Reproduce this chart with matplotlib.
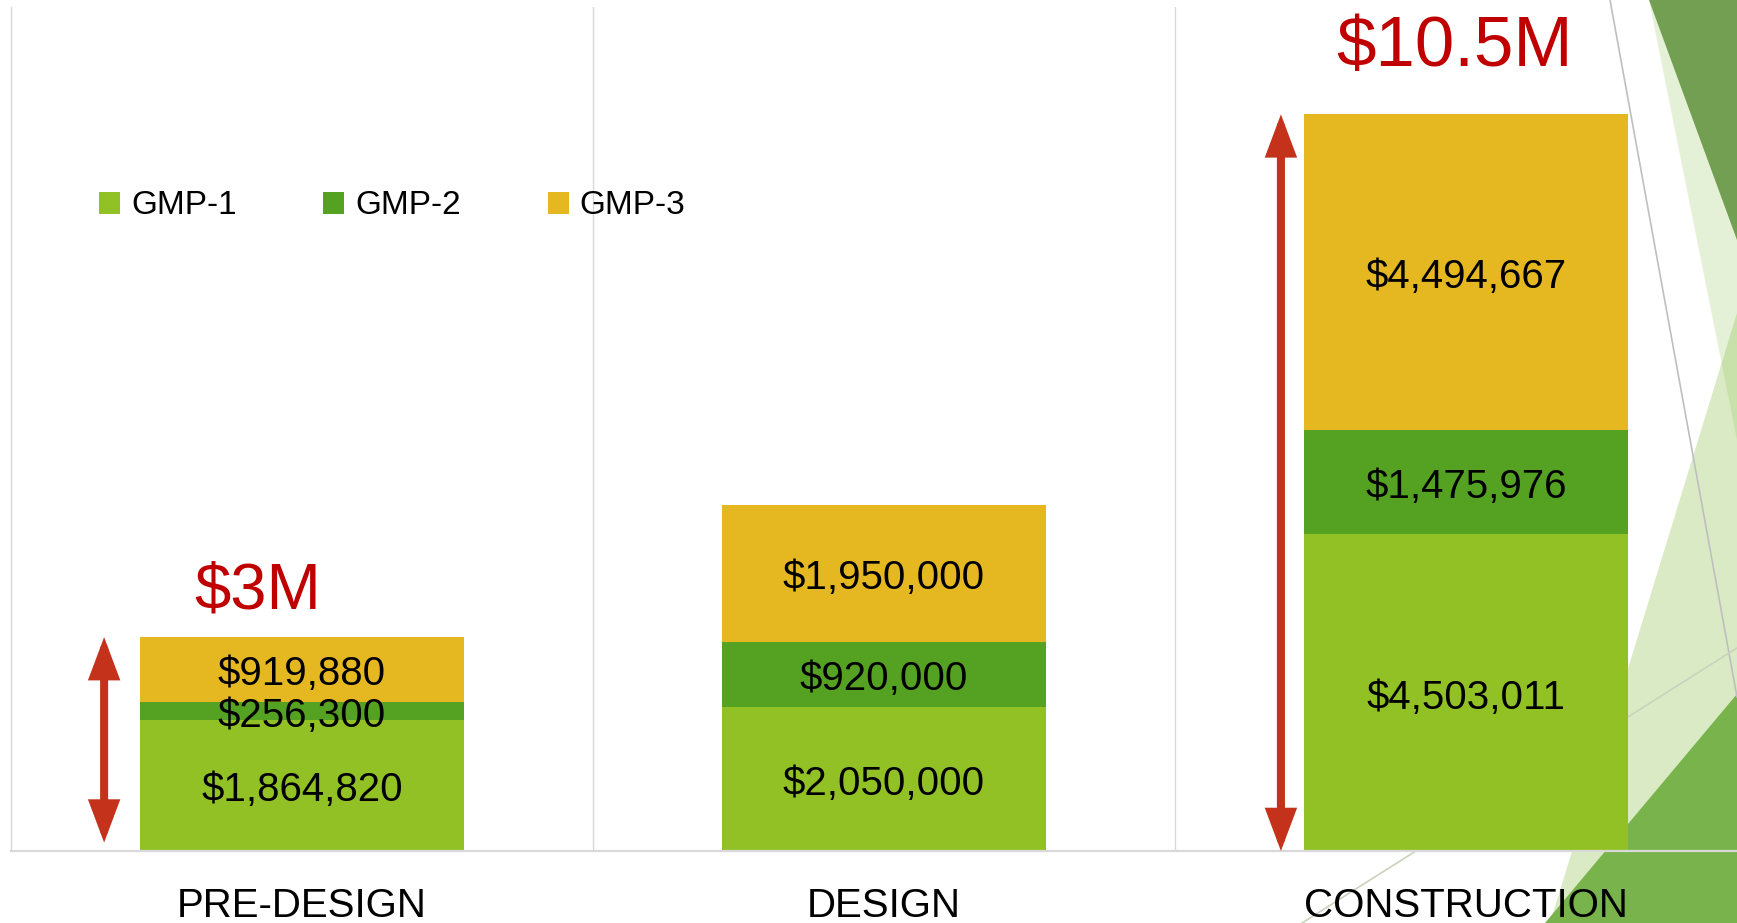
import matplotlib.pyplot as plt
from matplotlib.patches import Patch, Polygon
from matplotlib.lines import Line2D

plt.rcParams['font.family'] = ['Liberation Sans', 'DejaVu Sans']

# data
phases = ['PRE-DESIGN', 'DESIGN', 'CONSTRUCTION']
series = ['GMP-1', 'GMP-2', 'GMP-3']
gmp1 = [1864820, 2050000, 4503011]
gmp2 = [256300, 920000, 1475976]
gmp3 = [919880, 1950000, 4494667]
callouts = {0: '$3M', 2: '$10.5M'}

colors = ['#92C126', '#55A122', '#E5B821']
red_text = '#C00000'
red_arrow = '#C5321C'
grid_col = '#D9D9D9'

W, H = 1737, 923


def fig_xy(pts):
    # pixel coords (y from top) -> figure fraction
    return [(x / W, 1 - y / H) for x, y in pts]


def draw_background(fig):
    # facet-style green shapes at the right edge of the slide
    shapes = [
        ([(1649, 0), (1737, 0), (1737, 440)], '#8CC04B', 0.22),
        ([(1737, 313), (1550, 923), (1737, 923)], '#8CC04B', 0.32),
        ([(1649, 0), (1737, 0), (1737, 240)], '#739F53', 1.0),
        ([(1737, 694), (1545, 923), (1737, 923)], '#79B34C', 1.0),
    ]
    for pts, c, a in shapes:
        fig.add_artist(Polygon(fig_xy(pts), closed=True, facecolor=c, alpha=a,
                               edgecolor='none', transform=fig.transFigure, zorder=-2))
    for (p0, p1), c in [(((1610, 0), (1737, 697)), '#BFBFBF'),
                        (((1737, 648), (1302, 923)), '#C9D3BE')]:
        (x0, y0), (x1, y1) = fig_xy([p0, p1])
        fig.add_artist(Line2D([x0, x1], [y0, y1], color=c, lw=1.2,
                              transform=fig.transFigure, zorder=-1))


def main():
    fig = plt.figure(figsize=(W / 100, H / 100), dpi=100)
    draw_background(fig)

    ax = fig.add_axes([11 / W, 72 / H, 1746 / W, 844 / H])
    ax.set_facecolor('none')
    x = list(range(len(phases)))
    width = 0.558

    bottom = [0] * len(phases)
    for name, vals, c in zip(series, [gmp1, gmp2, gmp3], colors):
        ax.bar(x, vals, width, bottom=bottom, color=c, label=name, zorder=3)
        for xi, b, v in zip(x, bottom, vals):
            ax.annotate(f'${v:,.0f}', (xi, b + v / 2), xytext=(0, -3.5),
                        textcoords='offset points', ha='center', va='center',
                        fontsize=29, color='black', zorder=4)
        bottom = [b + v for b, v in zip(bottom, vals)]
    totals = bottom

    ax.set_xlim(-0.5, len(phases) - 0.5)
    ax.set_ylim(0, 12e6)
    ax.set_xticks(x)
    ax.set_xticklabels(phases, fontsize=29)
    ax.tick_params(axis='x', length=0, pad=26)
    ax.set_yticks([])
    for i in range(1, len(phases)):
        ax.axvline(i - 0.5, color=grid_col, lw=1, zorder=1)
    for side in ['top', 'right']:
        ax.spines[side].set_visible(False)
    ax.spines['left'].set_color(grid_col)
    ax.spines['left'].set_linewidth(1)
    ax.spines['bottom'].set_color(grid_col)
    ax.spines['bottom'].set_linewidth(1.6)
    ax.spines['bottom'].set_zorder(5)

    # double arrows showing the total height + big red callouts
    arrow_dx = {0: -0.34, 2: -0.318}
    arrow_lo = {0: 0.12e6, 2: 0}
    text_off = {0: (-32, 33), 2: (-8, 48)}
    text_size = {0: 47, 2: 51}
    for i, label in callouts.items():
        ax.annotate('', xy=(i + arrow_dx[i], totals[i]), xytext=(i + arrow_dx[i], arrow_lo[i]),
                    arrowprops=dict(arrowstyle='<|-|>,head_length=20,head_width=7.5',
                                    mutation_scale=1, lw=5.8, color=red_arrow,
                                    joinstyle='miter', shrinkA=0, shrinkB=0), zorder=6)
        ax.annotate(label, xy=(i, totals[i]), xytext=text_off[i], textcoords='offset points',
                    ha='center', va='center', fontsize=text_size[i], color=red_text)

    handles = [Patch(facecolor=c, edgecolor='none') for c in colors]
    fig.legend(handles, series, loc='center left', bbox_to_anchor=(99 / W, 1 - 206 / H),
               ncol=3, frameon=False, fontsize=24, handlelength=0.63, handleheight=0.63,
               handletextpad=0.33, columnspacing=2.6, borderpad=0, borderaxespad=0)

    fig.savefig('out.png', dpi=100)


if __name__ == '__main__':
    main()
